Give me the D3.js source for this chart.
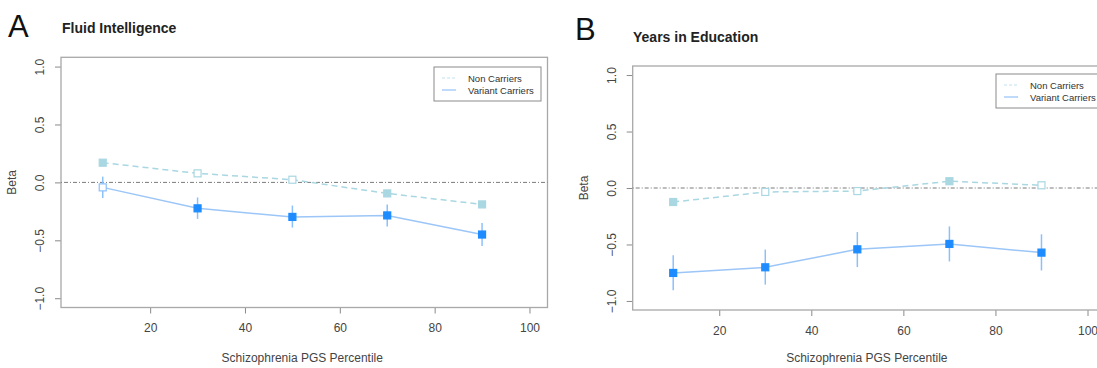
<!DOCTYPE html>
<html>
<head>
<meta charset="utf-8">
<script src="https://cdn.jsdelivr.net/npm/d3@7"></script>
<style>
  body { margin: 0; background: #fff; }
  svg { display: block; font-family: "Liberation Sans", Arial, Helvetica, sans-serif; }
</style>
</head>
<body>
<svg id="chart" width="1097" height="368"></svg>
<script>
// percentile bins (x positions)
var percentiles = [10, 30, 50, 70, 90];
var xTicks = [20, 40, 60, 80, 100];
var yTicks = [-1.0, -0.5, 0.0, 0.5, 1.0];

// Panel A: Fluid Intelligence
var fiNonBeta   = [0.17, 0.078, 0.023, -0.095, -0.19];
var fiNonLo     = [0.15, 0.058, 0.003, -0.115, -0.21];
var fiNonHi     = [0.19, 0.098, 0.043, -0.075, -0.17];
var fiNonSig    = [true, false, false, true, true];
var fiVarBeta   = [-0.043, -0.224, -0.298, -0.285, -0.45];
var fiVarLo     = [-0.135, -0.315, -0.39, -0.38, -0.55];
var fiVarHi     = [0.05, -0.13, -0.2, -0.19, -0.35];
var fiVarSig    = [false, true, true, true, true];

// Panel B: Years in Education
var edNonBeta   = [-0.124, -0.035, -0.027, 0.06, 0.024];
var edNonLo     = [-0.15, -0.06, -0.052, 0.035, -0.001];
var edNonHi     = [-0.098, -0.01, -0.002, 0.085, 0.049];
var edNonSig    = [true, false, false, true, false];
var edVarBeta   = [-0.752, -0.702, -0.543, -0.495, -0.572];
var edVarLo     = [-0.906, -0.855, -0.70, -0.65, -0.73];
var edVarHi     = [-0.596, -0.545, -0.39, -0.34, -0.41];
var edVarSig    = [true, true, true, true, true];

var legendLabels = ["Non Carriers", "Variant Carriers"];

var nonCol = "#a9d7e2", varCol = "#1e8cff", varLine = "#9cc6f7", varErr = "#8cc0fb";

function rows(beta, lo, hi, sig) {
  return percentiles.map(function(p, i) {
    return { x: p, y: beta[i], lo: lo[i], hi: hi[i], sig: sig[i] };
  });
}

var panels = [
  { letter: "A", title: "Fluid Intelligence", left: 61, top: 57.3, bottom: 307.5, right: 547.5,
    letterX: 8, letterY: 37, titleX: 62, titleY: 33,
    legend: { x: 434, y: 67, w: 107, h: 34 },
    non: rows(fiNonBeta, fiNonLo, fiNonHi, fiNonSig),
    vari: rows(fiVarBeta, fiVarLo, fiVarHi, fiVarSig) },
  { letter: "B", title: "Years in Education", left: 632.7, top: 66, bottom: 310, right: 1105,
    letterX: 575, letterY: 40, titleX: 633, titleY: 42,
    legend: { x: 996, y: 74, w: 107, h: 34 },
    non: rows(edNonBeta, edNonLo, edNonHi, edNonSig),
    vari: rows(edVarBeta, edVarLo, edVarHi, edVarSig) }
];

var svg = d3.select("#chart");
var ms = 7; // marker size

panels.forEach(function(p) {
  var x = d3.scaleLinear().domain([1.2, 103.8]).range([p.left, p.right]);
  var y = d3.scaleLinear().domain([-1.08, 1.08]).range([p.bottom, p.top]);
  var g = svg.append("g");

  // panel letter and title
  g.append("text").attr("x", p.letterX).attr("y", p.letterY)
    .attr("font-size", 31).attr("fill", "#111").text(p.letter);
  g.append("text").attr("x", p.titleX).attr("y", p.titleY)
    .attr("font-size", 14).attr("font-weight", "bold").attr("fill", "#222").text(p.title);

  // axes
  var xa = g.append("g").attr("transform", "translate(0," + p.bottom + ")")
    .call(d3.axisBottom(x).tickValues(xTicks).tickSize(6).tickPadding(10));
  var ya = g.append("g").attr("transform", "translate(" + p.left + ",0)")
    .call(d3.axisLeft(y).tickValues(yTicks).tickSize(6).tickFormat(d3.format(".1f")));
  [xa, ya].forEach(function(a) {
    a.select(".domain").remove();
    a.selectAll("line").attr("stroke", "#8a8a8a");
    a.selectAll("text").attr("fill", "#444").attr("font-size", 12)
      .attr("font-family", "Liberation Sans, Arial, sans-serif");
  });
  ya.selectAll("text")
    .attr("x", null).attr("dy", null)
    .attr("text-anchor", "middle")
    .attr("transform", "translate(-21,0) rotate(-90) translate(0,4)");

  g.append("rect").attr("x", p.left).attr("y", p.top)
    .attr("width", p.right - p.left).attr("height", p.bottom - p.top)
    .attr("fill", "none").attr("stroke", "#a8a8a8").attr("stroke-width", 1.3);

  g.append("text").attr("x", (p.left + Math.min(p.right, 1097 + 40)) / 2 - 2).attr("y", 362)
    .attr("text-anchor", "middle").attr("font-size", 12).attr("fill", "#444")
    .text("Schizophrenia PGS Percentile");
  g.append("text").attr("transform", "translate(" + (p.left - 45) + "," + ((p.top + p.bottom) / 2) + ") rotate(-90)")
    .attr("text-anchor", "middle").attr("font-size", 12).attr("fill", "#444").text("Beta");

  // zero reference line
  g.append("line").attr("x1", p.left).attr("x2", p.right)
    .attr("y1", y(0)).attr("y2", y(0))
    .attr("stroke", "#7a7a7a").attr("stroke-width", 1)
    .attr("stroke-dasharray", "1,2,4,2");

  var line = d3.line().x(function(d) { return x(d.x); }).y(function(d) { return y(d.y); });

  // non carriers
  g.append("path").datum(p.non).attr("d", line).attr("fill", "none")
    .attr("stroke", nonCol).attr("stroke-width", 1.5).attr("stroke-dasharray", "6,4");
  g.selectAll(".nerr").data(p.non).enter().append("line")
    .attr("x1", function(d) { return x(d.x); }).attr("x2", function(d) { return x(d.x); })
    .attr("y1", function(d) { return y(d.lo); }).attr("y2", function(d) { return y(d.hi); })
    .attr("stroke", nonCol).attr("stroke-width", 1.3);
  g.selectAll(".npt").data(p.non).enter().append("rect")
    .attr("x", function(d) { return x(d.x) - ms / 2; }).attr("y", function(d) { return y(d.y) - ms / 2; })
    .attr("width", ms).attr("height", ms)
    .attr("fill", function(d) { return d.sig ? nonCol : "#fff"; })
    .attr("stroke", nonCol).attr("stroke-width", 1.2);

  // variant carriers
  g.append("path").datum(p.vari).attr("d", line).attr("fill", "none")
    .attr("stroke", varLine).attr("stroke-width", 1.5);
  g.selectAll(".verr").data(p.vari).enter().append("line")
    .attr("x1", function(d) { return x(d.x); }).attr("x2", function(d) { return x(d.x); })
    .attr("y1", function(d) { return y(d.lo); }).attr("y2", function(d) { return y(d.hi); })
    .attr("stroke", varErr).attr("stroke-width", 1.5);
  g.selectAll(".vpt").data(p.vari).enter().append("rect")
    .attr("x", function(d) { return x(d.x) - ms / 2; }).attr("y", function(d) { return y(d.y) - ms / 2; })
    .attr("width", ms).attr("height", ms)
    .attr("fill", function(d) { return d.sig ? varCol : "#fff"; })
    .attr("stroke", function(d) { return d.sig ? varCol : varErr; }).attr("stroke-width", 1.2);

  // legend
  var L = p.legend;
  var lg = g.append("g").attr("transform", "translate(" + L.x + "," + L.y + ")");
  lg.append("rect").attr("width", L.w).attr("height", L.h)
    .attr("fill", "#fff").attr("stroke", "#8a8a8a").attr("stroke-width", 1);
  legendLabels.forEach(function(lab, i) {
    var yy = 11 + i * 12;
    lg.append("line").attr("x1", 8).attr("x2", 22).attr("y1", yy).attr("y2", yy)
      .attr("stroke", i === 0 ? "#d6ebf6" : varLine).attr("stroke-width", 1.3)
      .attr("stroke-dasharray", i === 0 ? "3,2" : null);
    lg.append("text").attr("x", 34).attr("y", yy + 3.5)
      .attr("font-size", 9.5).attr("fill", "#333").text(lab);
  });
});
</script>
</body>
</html>
